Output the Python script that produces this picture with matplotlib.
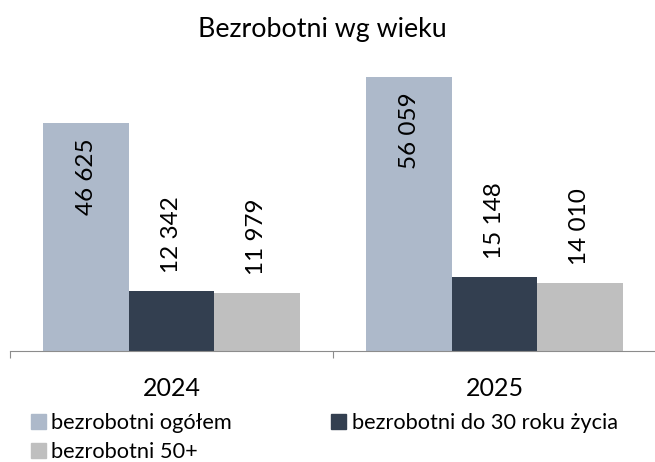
import matplotlib
matplotlib.use("Agg")
import matplotlib.pyplot as plt
from matplotlib.patches import Patch

plt.rcParams['font.family'] = ['Lato', 'DejaVu Sans']

years = ["2024", "2025"]
series = ["bezrobotni ogółem", "bezrobotni do 30 roku życia", "bezrobotni 50+"]
ogolem = [46625, 56059]
do30 = [12342, 15148]
plus50 = [11979, 14010]
colors = ["#ADB9CA", "#333F50", "#BFBFBF"]

fig = plt.figure(figsize=(6.55, 4.62), dpi=100)
ax = fig.add_axes([10/655, (462-351)/462, 646/655, (351-58)/462])

w = 0.2647
x = list(range(len(years)))
data = [ogolem, do30, plus50]
bars = []
for i, (vals, c) in enumerate(zip(data, colors)):
    pos = [xi + (i - 1) * w for xi in x]
    b = ax.bar(pos, vals, width=w, color=c, label=series[i])
    bars.append(b)
    for p, v in zip(pos, vals):
        lab = f"{v:,}".replace(",", " ")
        if i == 0:
            ax.annotate(lab, (p, v), xytext=(0, -15 * 0.72), textcoords="offset points",
                        rotation=90, ha="center", va="top", fontsize=17.5)
        else:
            ax.annotate(lab, (p, v), xytext=(0, 18 * 0.72), textcoords="offset points",
                        rotation=90, ha="center", va="bottom", fontsize=17.5)

ax.set_xlim(-0.5, 1.5)
ax.set_ylim(0, 60000)
ax.set_yticks([])
for s in ["left", "top", "right"]:
    ax.spines[s].set_visible(False)
ax.spines["bottom"].set_color("#8C8C8C")
ax.set_xticks(x)
ax.set_xticklabels(years, fontsize=18)
ax.tick_params(axis="x", which="major", length=0, pad=19)
ax.set_xticks([-0.5, 0.5, 1.5], minor=True)
ax.tick_params(axis="x", which="minor", length=5, color="#8C8C8C", width=0.8)

fig.text(322/655, 1 - 30/462, "Bezrobotni wg wieku", ha="center", va="center", fontsize=19.3)

handles = [Patch(color=c) for c in colors]
order = [0, 2, 1]
fig.legend([handles[k] for k in order], [series[k] for k in order],
           loc="upper left", bbox_to_anchor=(31/655, 1 - 413/462),
           ncol=2, frameon=False, fontsize=15.7, handlelength=0.68, handleheight=0.68,
           handletextpad=0.25, columnspacing=4.55, labelspacing=0.42, borderpad=0, borderaxespad=0)

fig.savefig("out.png", dpi=100)
